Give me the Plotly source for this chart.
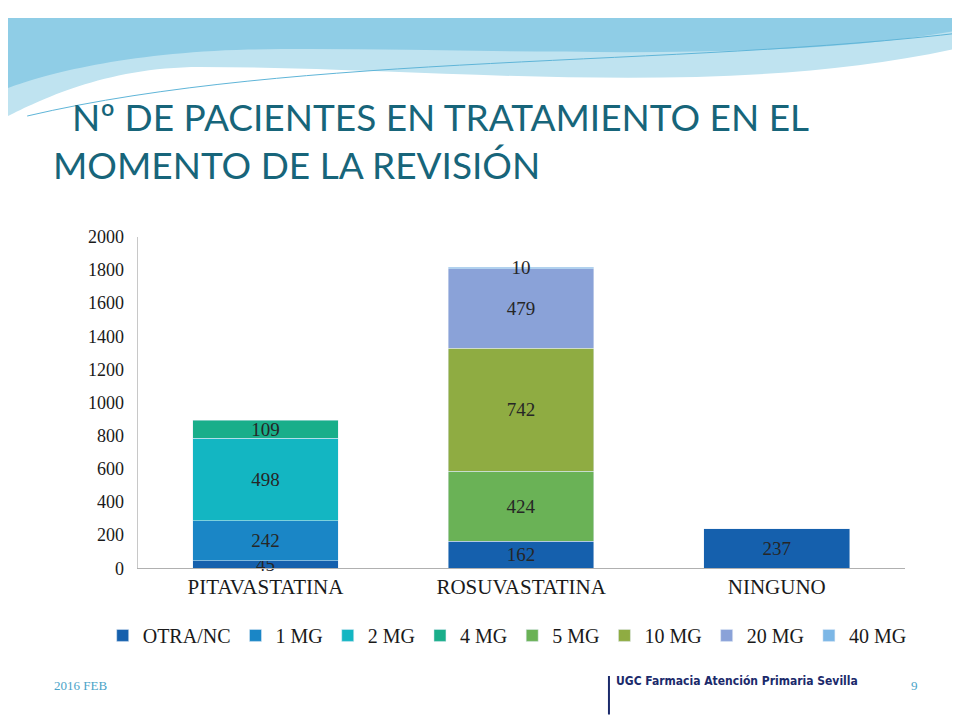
import plotly.graph_objects as go

categories = ["PITAVASTATINA", "ROSUVASTATINA", "NINGUNO"]
series_names = ["OTRA/NC", "1 MG", "2 MG", "4 MG", "5 MG", "10 MG", "20 MG", "40 MG"]
otra_nc = [45, 162, 237]
mg1 = [242, None, None]
mg2 = [498, None, None]
mg4 = [109, None, None]
mg5 = [None, 424, None]
mg10 = [None, 742, None]
mg20 = [None, 479, None]
mg40 = [None, 10, None]
colors = ["#1560ad", "#1a86c6", "#13b6c2", "#19ae8a", "#6ab256", "#8fac42", "#8aa2d8", "#7cb7e6"]

all_series = [otra_nc, mg1, mg2, mg4, mg5, mg10, mg20, mg40]

fig = go.Figure()
for name, vals, col in zip(series_names, all_series, colors):
    fig.add_trace(go.Bar(
        x=categories, y=vals, name=name, marker_color=col,
        text=vals, textposition="inside", insidetextanchor="middle", textangle=0,
        textfont=dict(family="Liberation Serif", size=19, color="#262626"),
        constraintext="none", cliponaxis=False,
    ))

# top decorative waves
fig.add_shape(type="path", xref="paper", yref="paper", layer="below",
              path="M 0 1 L 1 1 L 1 0.96 C 0.75 0.88 0.45 0.93 0.2 0.93 C 0.1 0.93 0.03 0.88 0 0.86 Z",
              fillcolor="#bfe3f0", line_width=0)
fig.add_shape(type="path", xref="paper", yref="paper", layer="below",
              path="M 0 1 L 1 1 L 1 0.985 C 0.8 0.93 0.5 0.96 0.25 0.955 C 0.12 0.95 0.04 0.92 0 0.9 Z",
              fillcolor="#8fcde6", line_width=0)
fig.add_shape(type="path", xref="paper", yref="paper", layer="below",
              path="M 0.02 0.86 C 0.3 0.95 0.7 0.93 1 0.98",
              line=dict(color="#5fb5d8", width=1))
# footer line
fig.add_shape(type="line", xref="paper", yref="paper", x0=0.626, x1=0.626, y0=0.005, y1=0.06,
              line=dict(color="#1b2a6b", width=2))

fig.add_annotation(x=0.045, y=0.895, xref="paper", yref="paper", xanchor="left", yanchor="top",
                   align="left", showarrow=False,
                   text="  Nº DE PACIENTES EN TRATAMIENTO EN EL<br>MOMENTO DE LA REVISIÓN",
                   font=dict(family="Lato", size=37, color="#17657a"))
fig.add_annotation(x=0.046, y=0.033, xref="paper", yref="paper", xanchor="left", showarrow=False,
                   text="2016 FEB", font=dict(family="Liberation Serif", size=13, color="#4aa3c8"))
fig.add_annotation(x=0.95, y=0.033, xref="paper", yref="paper", xanchor="right", showarrow=False,
                   text="9", font=dict(family="Liberation Serif", size=13, color="#4aa3c8"))
fig.add_annotation(x=0.631, y=0.04, xref="paper", yref="paper", xanchor="left", showarrow=False,
                   text="<b>UGC Farmacia Atención Primaria Sevilla</b>",
                   font=dict(family="DejaVu Sans Condensed, DejaVu Sans", size=12, color="#1b2a6b"))

fig.update_layout(
    width=960, height=720, barmode="stack", bargap=0.43,
    margin=dict(l=0, r=0, t=0, b=0),
    paper_bgcolor="white", plot_bgcolor="white",
    font=dict(family="Liberation Serif", color="#1a1a1a"),
    uniformtext=dict(minsize=18, mode="show"),
    xaxis=dict(domain=[0.135, 0.934], showline=True, linecolor="#b0b0b0",
               tickfont=dict(size=21, family="Liberation Serif"), ticks=""),
    yaxis=dict(domain=[0.214, 0.6875], range=[0, 2000], dtick=200, showgrid=False,
               showline=True, linecolor="#c8c8c8", tickfont=dict(size=18, family="Liberation Serif"),
               ticksuffix="  "),
    legend=dict(orientation="h", x=0.52, xanchor="center", y=0.118, yanchor="middle",
                font=dict(size=20, family="Liberation Serif"), traceorder="normal",
                itemwidth=30, tracegroupgap=0),
    showlegend=True,
)

fig.write_html("out.html")
